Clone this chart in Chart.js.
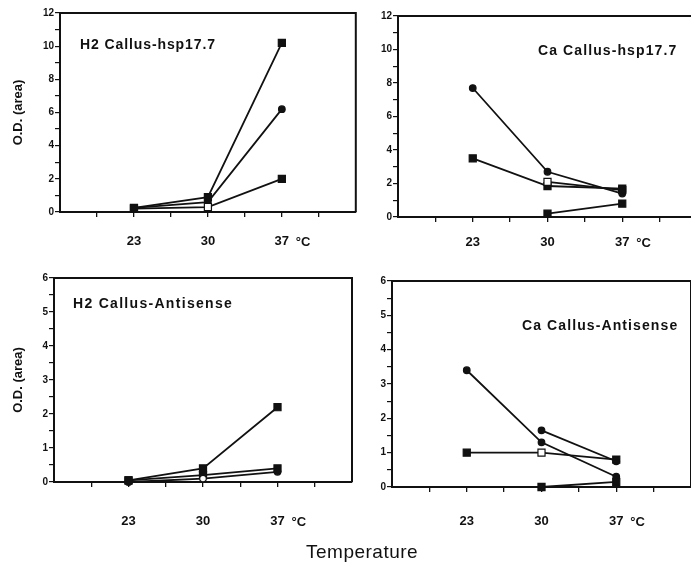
<!DOCTYPE html>
<html><head><meta charset="utf-8">
<script src="https://cdn.jsdelivr.net/npm/chart.js@4.4.0/dist/chart.umd.min.js"></script>
<style>
html,body{margin:0;padding:0;background:#fff;overflow:hidden;width:691px;height:566px;position:relative;}
.c{position:absolute;}
.t{position:absolute;font-family:"Liberation Sans",Arial,sans-serif;font-weight:bold;color:#111;white-space:nowrap;line-height:16px;font-size:14px;}
</style></head><body>
<div class="c" style="left:0;top:0;"><canvas id="p1" width="362" height="262"></canvas></div>
<div class="c" style="left:345px;top:0;"><canvas id="p2" width="360" height="262"></canvas></div>
<div class="c" style="left:0;top:262px;"><canvas id="p3" width="360" height="300"></canvas></div>
<div class="c" style="left:345px;top:262px;"><canvas id="p4" width="360" height="300"></canvas></div>
<div class="t" style="left:80px;top:36px;letter-spacing:0.9px;">H2 Callus-hsp17.7</div>
<div class="t" style="left:538px;top:42px;letter-spacing:1.1px;">Ca Callus-hsp17.7</div>
<div class="t" style="left:73px;top:295px;letter-spacing:1.3px;">H2 Callus-Antisense</div>
<div class="t" style="left:522px;top:317px;letter-spacing:1.1px;">Ca Callus-Antisense</div>
<div class="t" style="left:306px;top:541px;font-weight:normal;font-size:19px;line-height:22px;letter-spacing:0.5px;">Temperature</div>
<script>
// ---- data ----
const temps = [23, 30, 37];
const xTickValues = [19.5, 23, 26.5, 30, 33.5, 37, 40.5];
const xTickLabels = ['', '23', '', '30', '', '37', ''];
const yTicksTop = [0,1,2,3,4,5,6,7,8,9,10,11,12];
const yTicksBottom = [0,0.5,1,1.5,2,2.5,3,3.5,4,4.5,5,5.5,6];

const h2HspSquareA = [0.25, 0.9, 10.2];
const h2HspCircle  = [0.25, 0.6, 6.2];
const h2HspSquareB = [0.2, 0.3, 2.0];

const caHspCircle  = [7.7, 2.7, 1.4];
const caHspSquareA = [3.5, 1.85, 1.7];
const caHspOpen    = [null, 2.1, 1.6];
const caHspSquareB = [null, 0.2, 0.8];

const h2AntiSquareA = [0.05, 0.4, 2.2];
const h2AntiSquareB = [0.05, 0.2, 0.4];
const h2AntiCircle  = [0.0, 0.1, 0.3];

const caAntiCircleA = [3.4, 1.3, 0.3];
const caAntiCircleB = [null, 1.65, 0.75];
const caAntiSquareA = [1.0, 1.0, 0.8];
const caAntiSquareB = [null, 0.0, 0.15];

const INK = '#111';
const FONT = '"Liberation Sans", Arial, sans-serif';

function ds(values, style, fills, radius) {
  return {
    data: temps.map((t, i) => ({x: t, y: values[i]})),
    borderColor: INK,
    borderWidth: 1.8,
    pointStyle: style,
    pointRadius: radius || (style === 'rect' ? 5 : 3.3),
    pointBackgroundColor: fills || INK,
    pointBorderColor: INK,
    pointBorderWidth: 1.2,
    spanGaps: false,
    clip: false,
    tension: 0
  };
}

const frame = {
  id: 'frame',
  afterDraw(chart) {
    const a = chart.chartArea, c = chart.ctx;
    c.save();
    c.strokeStyle = INK; c.lineWidth = 2;
    c.beginPath();
    c.moveTo(a.left, a.top); c.lineTo(a.right, a.top); c.lineTo(a.right, a.bottom);
    c.stroke();
    const xs = chart.scales.x;
    const px = xs.getPixelForValue(37);
    c.fillStyle = INK;
    c.font = 'bold 13px ' + FONT;
    c.textBaseline = 'middle';
    c.textAlign = 'left';
    c.fillText('°C', px + 14, chart.$labelY);
    c.restore();
  }
};

function makeChart(id, cfg) {
  const yTicks = cfg.bottom ? yTicksBottom : yTicksTop;
  const chart = new Chart(document.getElementById(id), {
    type: 'line',
    data: { datasets: cfg.datasets },
    options: {
      responsive: false,
      animation: false,
      events: [],
      layout: { padding: { left: 0, top: cfg.top, right: cfg.right, bottom: 0 } },
      plugins: { legend: { display: false }, tooltip: { enabled: false } },
      scales: {
        x: {
          type: 'linear', min: 16, max: 44,
          afterBuildTicks: s => { s.ticks = xTickValues.map(v => ({value: v})); },
          afterFit: s => { s.height = cfg.xh; },
          ticks: {
            autoSkip: false, maxRotation: 0,
            callback: (v) => xTickLabels[xTickValues.indexOf(v)] || '',
            font: { family: FONT, size: 13, weight: 'bold' }, color: INK,
            padding: cfg.xpad
          },
          grid: { drawOnChartArea: false, drawTicks: true, tickLength: 5, color: INK, lineWidth: 1.3 },
          border: { display: true, color: INK, width: 2 }
        },
        y: {
          type: 'linear', min: 0, max: cfg.bottom ? 6 : 12,
          afterBuildTicks: s => { s.ticks = yTicks.map(v => ({value: v})); },
          afterFit: s => { s.width = cfg.yw; },
          ticks: {
            autoSkip: false,
            callback: (v) => cfg.bottom ? (Number.isInteger(v) ? String(v) : '') : (v % 2 === 0 ? String(v) : ''),
            font: { family: FONT, size: 10, weight: 'bold' }, color: INK, padding: 1
          },
          grid: { drawOnChartArea: false, drawTicks: true, tickLength: 5, color: INK, lineWidth: 1.2 },
          border: { display: true, color: INK, width: 2 },
          title: cfg.ytitle ? { display: true, text: 'O.D. (area)', font: { family: FONT, size: 13, weight: 'bold' }, color: INK, padding: { top: 11, bottom: 0 } } : { display: false }
        }
      }
    },
    plugins: [frame]
  });
  chart.$labelY = chart.chartArea.bottom + 5 + cfg.xpad + 8;
  chart.draw();
  return chart;
}

makeChart('p1', {
  top: 13, right: 4, yw: 60, xh: 262 - 212, xpad: 17, ytitle: true,
  datasets: [
    ds(h2HspSquareB, 'rect', [INK, '#fff', INK]),
    ds(h2HspCircle, 'circle'),
    ds(h2HspSquareA, 'rect')
  ]
});
makeChart('p2', {
  top: 16, right: 8, yw: 53, xh: 262 - 217, xpad: 13,
  datasets: [
    ds(caHspSquareB, 'rect'),
    ds(caHspOpen, 'rect', [INK, '#fff', INK]),
    ds(caHspSquareA, 'rect'),
    ds(caHspCircle, 'circle')
  ]
});
makeChart('p3', {
  top: 16, right: 8, yw: 54, xh: 300 - 220, xpad: 27, ytitle: true, bottom: true,
  datasets: [
    ds(h2AntiCircle, 'circle', [INK, '#fff', INK]),
    ds(h2AntiSquareB, 'rect'),
    ds(h2AntiSquareA, 'rect')
  ]
});
makeChart('p4', {
  top: 19, right: 14, yw: 47, xh: 300 - 225, xpad: 22, bottom: true,
  datasets: [
    ds(caAntiSquareB, 'rect'),
    ds(caAntiSquareA, 'rect', [INK, '#fff', INK]),
    ds(caAntiCircleB, 'circle'),
    ds(caAntiCircleA, 'circle')
  ]
});
</script>
</body></html>
